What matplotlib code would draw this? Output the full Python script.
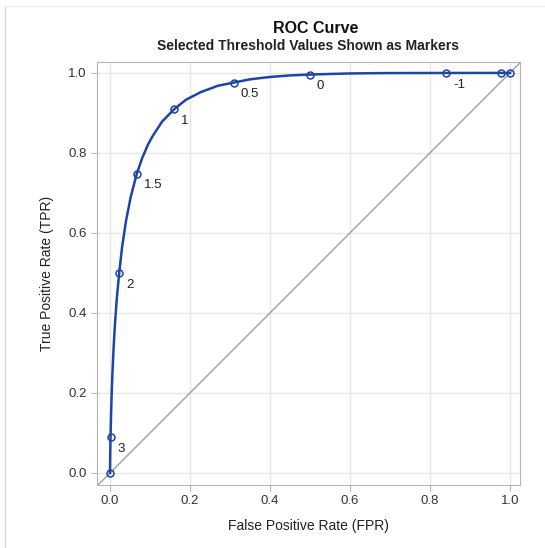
import matplotlib.pyplot as plt

plt.rcParams['font.family'] = ['Liberation Sans', 'DejaVu Sans']

# curve (FPR, TPR)
curve_fpr = [0.0, 0.0005, 0.0013, 0.002, 0.003, 0.0045, 0.0062, 0.009, 0.0122, 0.017,
             0.023, 0.030, 0.040, 0.052, 0.067, 0.080, 0.095, 0.106, 0.13, 0.16,
             0.19, 0.227, 0.27, 0.31, 0.35, 0.401, 0.45, 0.50, 0.60, 0.691,
             0.84, 0.977, 1.0]
curve_tpr = [0.0, 0.043, 0.09, 0.121, 0.159, 0.207, 0.252, 0.313, 0.37, 0.436,
             0.50, 0.563, 0.63, 0.691, 0.748, 0.786, 0.821, 0.841, 0.878, 0.909,
             0.933, 0.952, 0.968, 0.976, 0.984, 0.990, 0.9938, 0.996, 0.9987, 0.9996,
             0.9999, 1.0, 1.0]

# threshold markers
thr_labels = ['', '3', '2', '1.5', '1', '0.5', '0', '-1', '', '']
thr_fpr = [0.0, 0.0013, 0.023, 0.067, 0.16, 0.31, 0.50, 0.84, 0.977, 1.0]
thr_tpr = [0.0, 0.09, 0.50, 0.748, 0.909, 0.976, 0.996, 0.9999, 1.0, 1.0]

fig = plt.figure(figsize=(5.45, 5.48), dpi=100)
ax = fig.add_axes([0.178, 0.115, 0.776, 0.772])

ax.plot([-0.05, 1.05], [-0.05, 1.05], color='#a0a0a0', lw=1, zorder=2)
ax.plot(curve_fpr, curve_tpr, color='#1d45a6', lw=1.8, zorder=3)
ax.plot(thr_fpr, thr_tpr, 'o', ms=5, mfc='none', mec='#1d45a6', mew=1.1, zorder=4)
for lab, x, y in zip(thr_labels, thr_fpr, thr_tpr):
    if lab:
        ax.annotate(lab, (x, y), xytext=(5, -4), textcoords='offset points',
                    ha='left', va='top', fontsize=9.5, color='#222222')

ax.set_xlim(-0.0325, 1.025)
ax.set_ylim(-0.03, 1.0275)
ticks = [0.0, 0.2, 0.4, 0.6, 0.8, 1.0]
ax.set_xticks(ticks)
ax.set_yticks(ticks)
ax.set_xticklabels(['0.0', '0.2', '0.4', '0.6', '0.8', '1.0'])
ax.set_yticklabels(['0.0', '0.2', '0.4', '0.6', '0.8', '1.0'])
ax.grid(True, color='#e6e6e6', lw=1)
ax.set_axisbelow(True)
for s in ax.spines.values():
    s.set_color('#b4b4b4')
ax.tick_params(colors='#b4b4b4', labelcolor='#333333', labelsize=9.5, length=4)

ax.set_xlabel('False Positive Rate (FPR)', fontsize=10, color='#222222', labelpad=8)
ax.set_ylabel('True Positive Rate (TPR)', fontsize=10, color='#222222', labelpad=10)

fig.text(0.58, 0.948, 'ROC Curve', ha='center', va='center',
         fontsize=11.5, fontweight='bold', color='#111111')
fig.text(0.566, 0.916, 'Selected Threshold Values Shown as Markers', ha='center',
         va='center', fontsize=10, fontweight='bold', color='#222222')

# faint outer frame
fig.add_artist(plt.Line2D([0.01, 0.01], [0, 0.989], color='#d8d8d8', lw=1))
fig.add_artist(plt.Line2D([0.01, 1], [0.989, 0.989], color='#eeeeee', lw=1))

fig.savefig('out.png', dpi=100)
